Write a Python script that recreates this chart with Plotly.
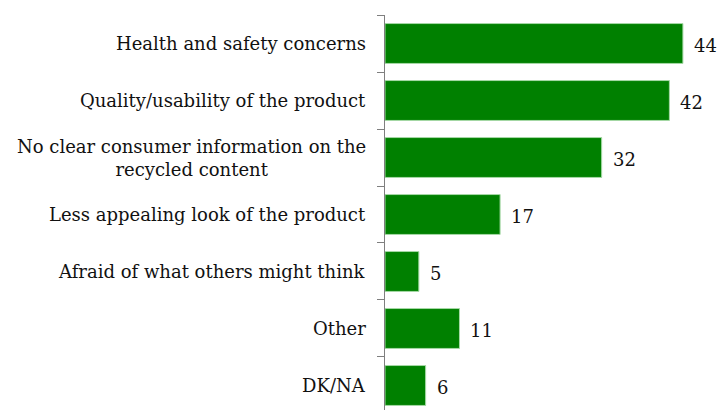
import plotly.graph_objects as go

categories = [
    "Health and safety concerns",
    "Quality/usability of the product",
    "No clear consumer information on the<br>recycled content",
    "Less appealing look of the product",
    "Afraid of what others might think",
    "Other",
    "DK/NA",
]
values = [44, 42, 32, 17, 5, 11, 6]

FONT = "DejaVu Serif"
TEXT = "#111111"
BAR_GREEN = "#008000"
AXIS_GREY = "#7f7f7f"

positions = list(range(len(categories)))
# tick marks sit on the boundaries between category bands
boundaries = [p - 0.5 for p in positions] + [positions[-1] + 0.5]
y_range = [6.43, -0.5]

fig = go.Figure(
    go.Bar(
        x=values,
        y=positions,
        orientation="h",
        marker=dict(color=BAR_GREEN, line=dict(color="#a6d9a6", width=1)),
        width=0.7,
        hoverinfo="skip",
    )
)

for pos, cat, val in zip(positions, categories, values):
    # category label, centred lines, right-aligned against the axis
    fig.add_annotation(
        xref="paper", x=0, y=pos, text=cat, showarrow=False,
        xanchor="right", xshift=-17, align="center",
        font=dict(family=FONT, size=18, color=TEXT),
    )
    # value label just past the end of the bar
    fig.add_annotation(
        x=val, y=pos, text=str(val), showarrow=False,
        xanchor="left", xshift=9, yshift=-2,
        font=dict(family=FONT, size=18, color=TEXT),
    )

fig.update_layout(
    width=717, height=410,
    margin=dict(l=385, r=7, t=15, b=0),
    plot_bgcolor="white", paper_bgcolor="white",
    showlegend=False,
    font=dict(family=FONT, size=17, color=TEXT),
    xaxis=dict(range=[0, 48], visible=False, fixedrange=True),
    yaxis=dict(
        range=y_range,
        showline=True, linecolor=AXIS_GREY, linewidth=1,
        tickmode="array", tickvals=boundaries,
        ticktext=[" "] * len(boundaries),
        ticks="outside", ticklen=7, tickcolor=AXIS_GREY, tickwidth=1,
        showticklabels=True,
        showgrid=False, zeroline=False, fixedrange=True,
    ),
)

fig.write_html("out.html")
